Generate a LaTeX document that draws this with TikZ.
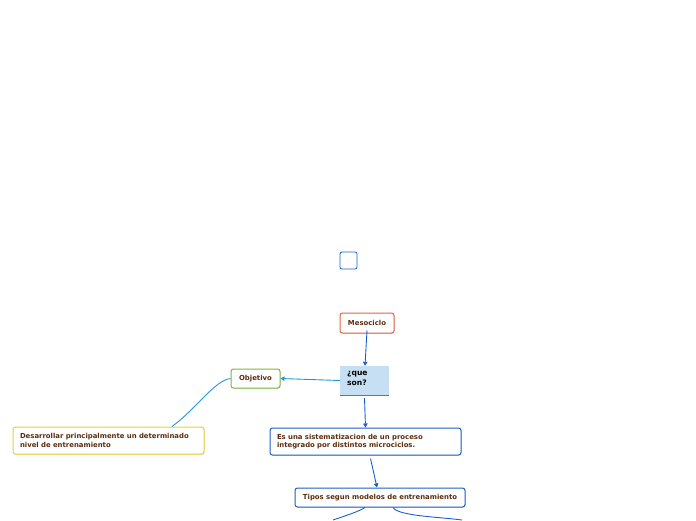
\documentclass[tikz,border=0pt]{standalone}
\usepackage{fontspec}
\setmainfont{DejaVu Sans}
\usetikzlibrary{arrows.meta,shadows}
\definecolor{txtbrown}{HTML}{5A2E0E}
\definecolor{dblue}{HTML}{1A5FCC}
\definecolor{lblue}{HTML}{2196E0}
\definecolor{qline}{HTML}{3A7BD5}
\definecolor{orng}{HTML}{E8603C}
\definecolor{grn}{HTML}{7CB83A}
\definecolor{ylw}{HTML}{E8D22E}
\definecolor{qfill}{HTML}{C6DFF2}
\tikzset{
  box/.style={draw, rounded corners=2.5pt, line width=1pt, fill=white, inner sep=0pt,
    font=\fontsize{6.9}{8.2}\selectfont\bfseries, text=txtbrown,
    drop shadow={shadow xshift=0.6pt, shadow yshift=-0.8pt, opacity=0.25}},
  conn/.style={line width=0.9pt, draw=dblue},
  tip/.style={-{Triangle[length=4pt,width=4.5pt]}},
}
\begin{document}
\begin{tikzpicture}[x=1pt,y=-1pt]
\useasboundingbox (0,0) rectangle (696,520);
% empty box
\node[draw=dblue, rounded corners=2pt, line width=0.8pt, minimum width=17pt, minimum height=17pt, inner sep=0pt] (empty) at (348.5,260.5) {};
% Mesociclo
\node[box, draw=orng, minimum width=54pt, minimum height=20pt] (meso) at (367,323) {Mesociclo};
% que son
\node[fill=qfill, minimum width=49pt, minimum height=29pt, inner sep=0pt] (que) at (364.5,380.5) {};
\node[font=\fontsize{7.6}{9.6}\selectfont\bfseries, align=left, anchor=north west, inner sep=0pt] (quet) at (347,371.5) {¿que\\son?};
\draw[qline, line width=0.9pt] (que.south west) -- (que.south east);
% Objetivo
\node[box, draw=grn, minimum width=49pt, minimum height=19pt] (obj) at (255.5,378.5) {Objetivo};
% Desarrollar
\node[box, draw=ylw, minimum width=191pt, minimum height=27pt, align=left, text width=177pt] (des) at (108.5,440.5) {Desarrollar principalmente un determinado\\nivel de entrenamiento};
% Es una
\node[box, draw=dblue, minimum width=191pt, minimum height=27pt, align=left, text width=177pt] (esuna) at (365.5,441.5) {Es una sistematizacion de un proceso\\integrado por distintos microciclos.};
% Tipos
\node[box, draw=dblue, minimum width=170pt, minimum height=19pt] (tipos) at (380,497.5) {Tipos segun modelos de entrenamiento};
\coordinate (e1) at (333,520);
\coordinate (e2) at (462,520);
% connectors
\draw[conn, tip] ([yshift=3pt]meso.south) -- ([xshift=0.5pt]que.north);
\draw[conn, draw=lblue, tip] (que.west) -- (obj.east);
\draw[conn, draw=lblue] (obj.west) .. controls (215,380) and (195,410) .. ([xshift=63.5pt]des.north);
\draw[conn, tip] ([yshift=-3pt]que.south) -- (esuna.north);
\draw[conn, tip] ([xshift=5pt,yshift=-3pt]esuna.south) -- ([xshift=-3pt]tipos.north);
\draw[conn] ([xshift=-15pt]tipos.south) .. controls (360,511) and (345,516) .. (e1);
\draw[conn] ([xshift=13pt]tipos.south) .. controls (398,516) and (440,517) .. (e2);
\end{tikzpicture}
\end{document}
